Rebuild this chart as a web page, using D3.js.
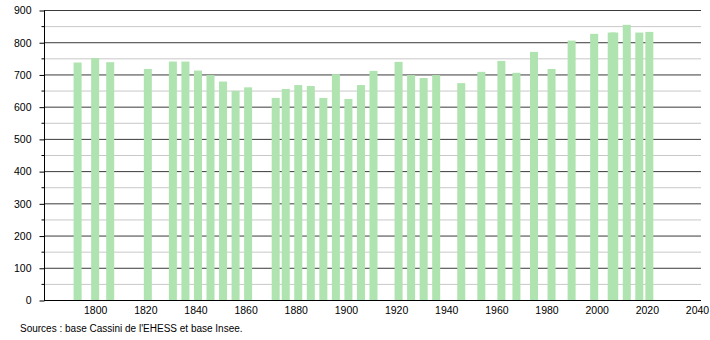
<!DOCTYPE html>
<html>
<head>
<meta charset="utf-8">
<script src="https://cdn.jsdelivr.net/npm/d3@7"></script>
<style>
body { margin:0; background:#fff; }
text { font-family: "Liberation Sans", Arial, sans-serif; }
</style>
</head>
<body>
<svg></svg>
<script>
var screen = {width:710, height:340}
var margins = {top:10, right:9, bottom:40, left:44}

// census years and population
var years = [1793,1800,1806,1821,1831,1836,1841,1846,1851,1856,1861,1872,1876,1881,1886,1891,1896,1901,1906,1911,1921,1926,1931,1936,1946,1954,1962,1968,1975,1982,1990,1999,2006,2007,2012,2017,2021]
var population = [737,751,738,717,740,740,712,698,678,649,660,627,655,667,664,627,701,624,667,711,739,698,689,698,673,708,742,705,770,717,805,826,830,830,854,830,832]
var yTicks = [0,100,200,300,400,500,600,700,800,900]
var yMinor = [50,150,250,350,450,550,650,750,850]
var xTicks = [1800,1820,1840,1860,1880,1900,1920,1940,1960,1980,2000,2020,2040]
var source = "Sources : base Cassini de l'EHESS et base Insee."

var svg = d3.select("svg")
    .attr("width",screen.width)
    .attr("height",screen.height)

var width = screen.width - margins.left - margins.right
var height = screen.height - margins.top - margins.bottom

var xScale = d3.scaleLinear()
    .domain([1780,2042])
    .range([margins.left+1, margins.left+width+1])

var yScale = d3.scaleLinear()
    .domain([0,900])
    .range([margins.top+height, margins.top])

var x0 = margins.left, x1 = margins.left+width

// gridlines
svg.append("g").selectAll("line")
    .data(yMinor)
    .enter()
    .append("line")
    .attr("x1",x0).attr("x2",x1)
    .attr("y1",function(d){return yScale(d)+0.5})
    .attr("y2",function(d){return yScale(d)+0.5})
    .attr("stroke","#c8c8c8")

svg.append("g").selectAll("line")
    .data(yTicks.slice(1))
    .enter()
    .append("line")
    .attr("x1",x0).attr("x2",x1)
    .attr("y1",function(d){return yScale(d)+0.5})
    .attr("y2",function(d){return yScale(d)+0.5})
    .attr("stroke","#3a3a3a")

// bars
svg.append("g").selectAll("rect")
    .data(years)
    .enter()
    .append("rect")
    .attr("x",function(d){return xScale(d)-4})
    .attr("width",8)
    .attr("y",function(d,i){return yScale(population[i])})
    .attr("height",function(d,i){return yScale(0)-yScale(population[i])})
    .attr("fill","#afe3af")

// y axis
var yAxis = d3.axisLeft(yScale).tickValues(yTicks).tickSize(5).tickPadding(8)
var ya = svg.append("g")
    .attr("transform","translate("+(margins.left+0.5)+",0.5)")
    .call(yAxis)
ya.select(".domain").attr("d","M0,"+yScale(900)+"V"+yScale(0))
ya.selectAll("text").attr("font-size",10.5).attr("fill","#000")
ya.selectAll(".minor")
    .data(yMinor)
    .enter()
    .append("line")
    .attr("x1",-3).attr("x2",0)
    .attr("y1",function(d){return yScale(d)})
    .attr("y2",function(d){return yScale(d)})
    .attr("stroke","#000")

// x axis
var xAxis = d3.axisBottom(xScale).tickValues(xTicks).tickSize(0).tickPadding(6).tickFormat(d3.format("d"))
var xa = svg.append("g")
    .attr("transform","translate(0,"+(yScale(0)+0.5)+")")
    .call(xAxis)
xa.select(".domain").attr("d","M"+x0+",0H"+x1)
xa.selectAll("text").attr("font-size",10.5).attr("fill","#000")

svg.append("text")
    .attr("x",20)
    .attr("y",332)
    .attr("font-size",10)
    .text(source)
</script>
</body>
</html>
